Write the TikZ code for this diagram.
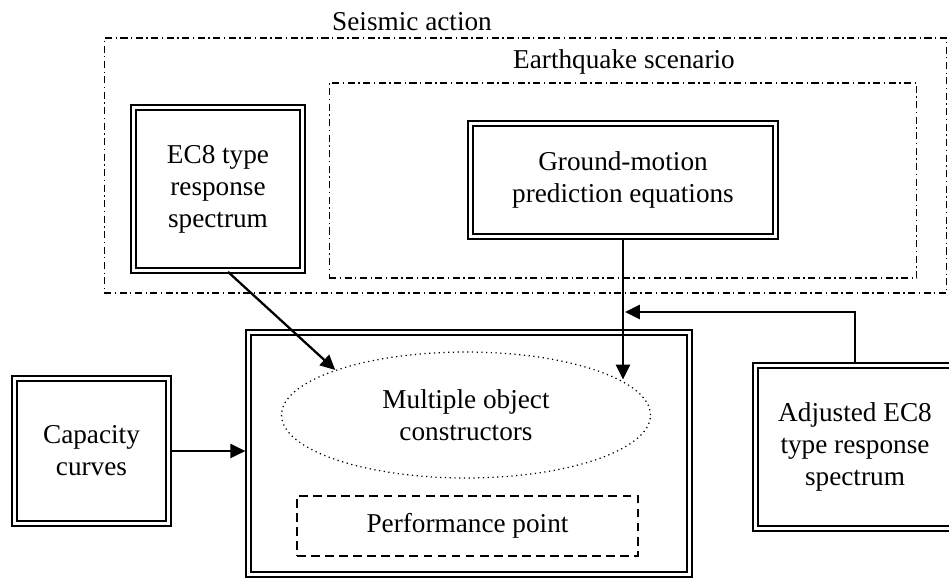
\documentclass[tikz,border=0pt]{standalone}
\usepackage{fontspec}
\setmainfont{Liberation Serif}
\usepackage{xcolor}
\definecolor{cLine}{HTML}{000000}
\usepackage{tikz}
\usetikzlibrary{positioning,arrows.meta,shapes.geometric,calc}
\tikzset{
  node-box/.style={draw=cLine,double,line width=1.6pt,double distance=1.2pt,
    align=center,inner sep=0pt},
  node-group/.style={draw=cLine,line width=0.6pt,
    dash pattern=on 4pt off 2pt on 0.8pt off 2pt,inner sep=0pt},
  node-oval/.style={draw=cLine,ellipse,dotted,line width=0.7pt,
    align=center,inner sep=0pt},
  node-dash/.style={draw=cLine,dash pattern=on 5pt off 3pt,line width=0.9pt,
    align=center,inner sep=0pt},
  arrow/.style={-{Triangle[length=8.5pt,width=8pt]},line width=1.3pt,draw=cLine},
}

\begin{document}
\begin{tikzpicture}[x=0.02cm,y=-0.02cm,font=\fontsize{15.5}{18.2}\selectfont]
  \useasboundingbox (0,0) rectangle (949,581);
  % seismic action / earthquake scenario frames
  \node[node-group,minimum width=16.86cm,minimum height=5.1cm] (seismic) at (525.5,165.5) {};
  \node[node-group,minimum width=11.76cm,minimum height=3.9cm] (quake) at (623,180.5) {};
  \node (seismic-lbl) at (412,22) {Seismic action};
  \node (quake-lbl) at (624,62) {Earthquake scenario};
  \node[node-box,minimum width=3.38cm,minimum height=3.26cm] (ec8) at (218,189) {EC8 type\\response\\spectrum};
  \node[node-box,minimum width=6.1cm,minimum height=2.26cm] (gmpe) at (623,180) {Ground-motion\\prediction equations};
  % calculation block
  \node[node-box,minimum width=8.82cm,minimum height=4.84cm] (main) at (469,453.5) {};
  \node[node-oval,minimum width=7.38cm,minimum height=2.52cm] (moc) at (466,415) {Multiple object\\constructors};
  \node[node-dash,minimum width=6.82cm,minimum height=1.2cm] (perf) at (467.5,526) {Performance point};
  \node[node-box,minimum width=3.08cm,minimum height=2.9cm] (cap) at (91.5,451) {Capacity\\curves};
  \node[node-box,minimum width=3.98cm,minimum height=3.26cm] (adj) at (855,447) {Adjusted EC8\\type response\\spectrum};
  \coordinate (merge) at (625,312);
  \draw[arrow] ($(ec8.south)+(10,0)$) -- (moc.161);
  \draw[arrow] (gmpe.south) -- (gmpe.south |- moc.13);
  \draw[arrow] (adj.north) |- (merge);
  \draw[arrow,shorten >=1pt] (cap.east) -- (cap.east -| main.west);
\end{tikzpicture}
\end{document}
